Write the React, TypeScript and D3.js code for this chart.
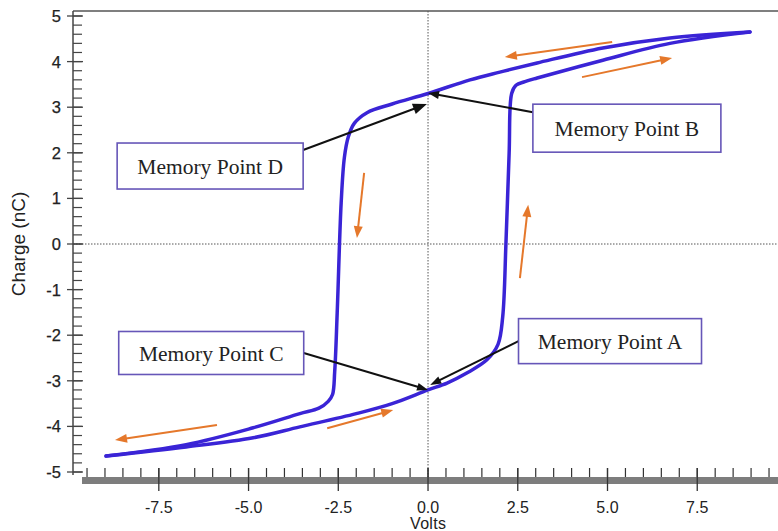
import * as d3 from 'd3'
import React, { useEffect, useRef } from 'react'

// hysteresis loop (Volts, nC)
const downVolts = [8.97, 6.74, 4.87, 3.04, 2.0, 1.17, 0, -1.0, -1.7, -2.05, -2.22, -2.33, -2.42, -2.53, -2.6, -2.66, -2.78, -3.04, -3.57, -4.87, -6.74, -8.97];
const downCharge = [4.65, 4.52, 4.3, 3.97, 3.77, 3.6, 3.3, 3.07, 2.88, 2.65, 2.35, 1.9, 0.9, -1.5, -2.8, -3.3, -3.45, -3.6, -3.72, -4.03, -4.4, -4.65];
const upVolts = [-8.97, -6.74, -4.87, -3.57, -2.0, -1.0, 0, 0.53, 1.08, 1.64, 1.95, 2.08, 2.17, 2.26, 2.33, 2.45, 2.7, 3.04, 4.87, 6.74, 8.97];
const upCharge = [-4.65, -4.45, -4.25, -4.01, -3.72, -3.5, -3.2, -3.05, -2.83, -2.54, -2.2, -1.6, 0, 2.0, 3.3, 3.48, 3.56, 3.64, 4.03, 4.4, 4.65];

const xTickLabels = ['-7.5', '-5.0', '-2.5', '0.0', '2.5', '5.0', '7.5'];
const yTickLabels = ['-5', '-4', '-3', '-2', '-1', '0', '1', '2', '3', '4', '5'];

// sweep direction arrows [fromV, fromQ, toV, toQ]
const sweepArrows = [
    [5.13, 4.43, 2.14, 4.10],
    [4.29, 3.66, 6.80, 4.08],
    [-1.78, 1.56, -1.98, 0.13],
    [2.56, -0.75, 2.79, 0.86],
    [-5.88, -3.97, -8.72, -4.30],
    [-2.81, -4.04, -0.97, -3.64],
];

const memoryLabels = ['Memory Point B', 'Memory Point D', 'Memory Point C', 'Memory Point A'];
const memoryBoxV = [5.54, -6.07, -6.04, 5.07];
const memoryBoxQ = [2.54, 1.71, -2.39, -2.13];
const memoryTargetV = [0, -0.03, 0, 0.06];
const memoryTargetQ = [3.31, 3.07, -3.2, -3.09];

const W = 778, H = 531;

const App: React.FC = () => {
    const ref = useRef<SVGSVGElement>(null);

    useEffect(() => {
        if (!ref.current) return;
        const svg = d3.select(ref.current);
        svg.selectAll('*').remove();

        const x = d3.scaleLinear().domain([-9.64, 9.75]).range([82, 778]);
        const y = d3.scaleLinear().domain([-5, 5]).range([472, 16]);
        const axisX = 73, topY = 11, barY = 477;

        const head = (g: any, x1: number, y1: number, x2: number, y2: number, len: number, wid: number, color: string, sw: number) => {
            const a = Math.atan2(y2 - y1, x2 - x1);
            const bx = x2 - len * Math.cos(a), by = y2 - len * Math.sin(a);
            g.append('line').attr('x1', x1).attr('y1', y1).attr('x2', bx + Math.cos(a)).attr('y2', by + Math.sin(a))
                .attr('stroke', color).attr('stroke-width', sw);
            const px = -Math.sin(a) * wid / 2, py = Math.cos(a) * wid / 2;
            g.append('polygon').attr('points', `${x2},${y2} ${bx + px},${by + py} ${bx - px},${by - py}`).attr('fill', color);
        };

        // frame
        svg.append('line').attr('x1', axisX).attr('x2', W).attr('y1', topY).attr('y2', topY)
            .attr('stroke', '#555').attr('stroke-width', 1.5);
        svg.append('line').attr('x1', axisX).attr('x2', axisX).attr('y1', topY).attr('y2', 475)
            .attr('stroke', '#444').attr('stroke-width', 1.5);

        // zero lines
        svg.append('line').attr('x1', x(0)).attr('x2', x(0)).attr('y1', topY).attr('y2', barY)
            .attr('stroke', '#555').attr('stroke-dasharray', '1.5,1.5');
        svg.append('line').attr('x1', axisX).attr('x2', W).attr('y1', y(0)).attr('y2', y(0))
            .attr('stroke', '#555').attr('stroke-dasharray', '1.5,1.5');

        // y ticks
        const yMinor = d3.range(-50, 51, 2).map(d => d / 10);
        svg.append('g').selectAll('line').data(yMinor).enter().append('line')
            .attr('x1', axisX).attr('x2', axisX + 9).attr('y1', d => y(d)).attr('y2', d => y(d))
            .attr('stroke', '#444').attr('stroke-width', 1.2);
        svg.append('g').selectAll('line').data(yTickLabels).enter().append('line')
            .attr('x1', axisX - 6).attr('x2', axisX + 10).attr('y1', d => y(+d)).attr('y2', d => y(+d))
            .attr('stroke', '#444').attr('stroke-width', 1.3);
        svg.append('g').attr('font-family', 'Liberation Sans, Arial, sans-serif').attr('font-size', 16.5)
            .attr('fill', '#222').attr('stroke', '#222').attr('stroke-width', 0.25).attr('text-anchor', 'end')
            .selectAll('text').data(yTickLabels).enter().append('text')
            .attr('x', 61).attr('y', d => y(+d)).attr('dy', '0.36em').text(d => d);

        // x axis bar and ticks
        svg.append('rect').attr('x', 82).attr('y', barY).attr('width', W - 82).attr('height', 7).attr('fill', '#7d7d7d');
        const xMinor = d3.range(-19, 20, 1).map(d => d / 2);
        svg.append('g').selectAll('line').data(xMinor).enter().append('line')
            .attr('x1', d => x(d)).attr('x2', d => x(d)).attr('y1', 468).attr('y2', barY)
            .attr('stroke', '#333').attr('stroke-width', 1.2);
        svg.append('g').selectAll('line').data(xTickLabels).enter().append('line')
            .attr('x1', d => x(+d)).attr('x2', d => x(+d)).attr('y1', 468).attr('y2', 491)
            .attr('stroke', '#333').attr('stroke-width', 1.3);
        svg.append('g').attr('font-family', 'Liberation Sans, Arial, sans-serif').attr('font-size', 16)
            .attr('fill', '#222').attr('text-anchor', 'middle')
            .selectAll('text').data(xTickLabels).enter().append('text')
            .attr('x', d => x(+d)).attr('y', 513).text(d => d);

        // axis titles
        svg.append('text').attr('x', x(0)).attr('y', 529).attr('text-anchor', 'middle')
            .attr('font-family', 'Liberation Sans, Arial, sans-serif').attr('font-size', 16).attr('fill', '#222')
            .attr('textLength', 36).text('Volts');
        svg.append('text').attr('transform', `translate(25,${y(0)}) rotate(-90)`).attr('text-anchor', 'middle')
            .attr('font-family', 'Liberation Sans, Arial, sans-serif').attr('font-size', 19).attr('fill', '#222')
            .text('Charge (nC)');

        // loop
        const line = d3.line<[number, number]>().x(d => x(d[0])).y(d => y(d[1])).curve(d3.curveCatmullRom.alpha(0.5));
        const down = downVolts.map((v, i) => [v, downCharge[i]] as [number, number]);
        const up = upVolts.map((v, i) => [v, upCharge[i]] as [number, number]);
        [down, up].forEach(pts => {
            svg.append('path').attr('d', line(pts)).attr('fill', 'none')
                .attr('stroke', '#3a24d6').attr('stroke-width', 3.5).attr('stroke-linecap', 'round');
        });

        // orange sweep arrows
        const og = svg.append('g');
        sweepArrows.forEach(a => head(og, x(a[0]), y(a[1]), x(a[2]), y(a[3]), 12, 9, '#e5782b', 2));

        // memory point boxes
        const bw = [188, 186, 185, 183];
        const bh = [48, 46, 43, 45];
        memoryLabels.forEach((lab, i) => {
            const cx = x(memoryBoxV[i]), cy = y(memoryBoxQ[i]);
            const tx = x(memoryTargetV[i]), ty = y(memoryTargetQ[i]);
            const leftSide = cx < tx;
            const sx = leftSide ? cx + bw[i] / 2 : cx - bw[i] / 2;
            const sy = i === 0 ? cy - 16 : i === 1 ? cy - 16 : cy;
            const g = svg.append('g');
            head(g, sx, sy, tx, ty, i === 1 ? 14 : 11, i === 1 ? 11 : 8, '#111', 2);
            g.append('rect').attr('x', cx - bw[i] / 2).attr('y', cy - bh[i] / 2).attr('width', bw[i]).attr('height', bh[i])
                .attr('fill', '#fff').attr('stroke', '#6656b8').attr('stroke-width', 1.6);
            g.append('text').attr('x', cx).attr('y', cy).attr('dy', '0.35em').attr('text-anchor', 'middle')
                .attr('font-family', 'Liberation Serif, Times New Roman, serif').attr('font-size', 21.5).attr('fill', '#222')
                .text(lab);
        });
    }, []);

    return <svg ref={ref} width={W} height={H} style={{ position: 'absolute', left: 0, top: 0, background: '#fff' }}></svg>;
};

export default App;
